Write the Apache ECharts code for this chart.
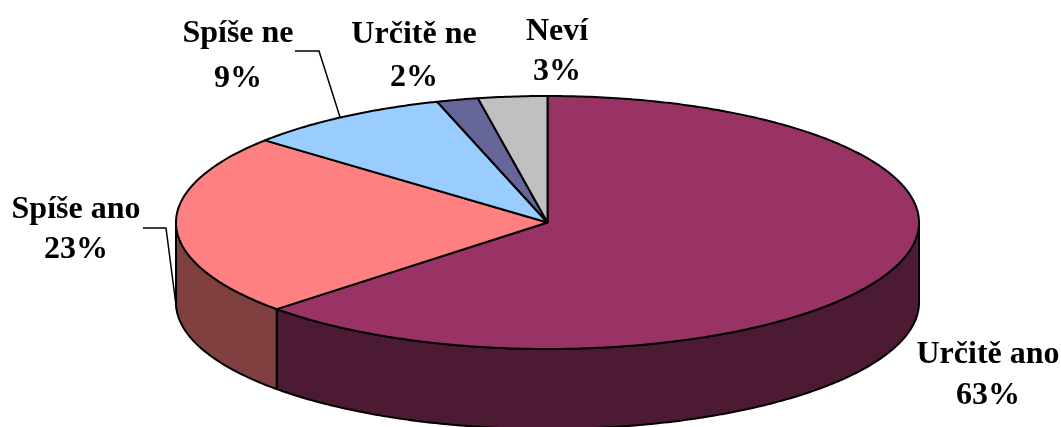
<!DOCTYPE html>
<html>
<head>
<meta charset="utf-8">
<style>html,body{margin:0;padding:0;background:#fff}#c{width:1061px;height:427px}</style>
<script src="https://cdn.jsdelivr.net/npm/echarts@6/dist/echarts.min.js"></script>
</head>
<body>
<div id="c"></div>
<script>
const categories = ['Určitě ano', 'Spíše ano', 'Spíše ne', 'Určitě ne', 'Neví'];
const values = [63, 23.25, 8.95, 1.8, 3];
const topColors = ['#993366', '#FF8080', '#99CCFF', '#666699', '#C0C0C0'];
const wallColors = ['#4D1A33', '#804040', '#4D6680', '#33334D', '#606060'];
const labelCenters = [[988, 375], [76, 230], [238, 56], [414, 56], [557, 52]];
const labelLineHeights = [41, 40, 45, 43, 40];
const leaders = [null, [[143, 228], [166, 228], [177, 313]], [[295, 51], [319, 51], [340, 117]], null, null];

const cx = 547.5, cy = 222.5, rx = 371.5, ry = 126.5, depth = 80;
const total = values.reduce((a, b) => a + b, 0);
const starts = values.map((_, i) => values.slice(0, i).reduce((a, b) => a + b, 0) / total * 360);
const rad = d => d * Math.PI / 180;
const pt = (deg, dy) => [cx + rx * Math.sin(rad(deg)), cy - ry * Math.cos(rad(deg)) + (dy || 0)];
const arc = (a, b, dy) => {
  const n = Math.max(2, Math.ceil(Math.abs(b - a) * 1.5));
  const out = [];
  for (let k = 0; k <= n; k++) out.push(pt(a + (b - a) * k / n, dy));
  return out;
};
const stroke = { stroke: '#000', lineWidth: 2, lineJoin: 'round' };

function renderWall(params, api) {
  const i = params.dataIndex;
  const a = Math.max(starts[i], 90), b = Math.min(starts[i] + api.value(0) / total * 360, 270);
  if (b <= a) return { type: 'group', children: [] };
  return {
    type: 'polygon',
    shape: { points: arc(a, b, 0).concat(arc(b, a, depth)) },
    style: Object.assign({ fill: wallColors[i] }, stroke)
  };
}
function renderTop(params, api) {
  const i = params.dataIndex;
  const a = starts[i], b = a + api.value(0) / total * 360;
  const kids = [{
    type: 'polygon',
    shape: { points: [[cx, cy]].concat(arc(a, b, 0)) },
    style: Object.assign({ fill: topColors[i] }, stroke)
  }, {
    type: 'text',
    style: {
      text: categories[i] + '\n' + Math.round(api.value(0)) + '%',
      x: labelCenters[i][0], y: labelCenters[i][1],
      align: 'center', verticalAlign: 'middle',
      font: 'bold 32px "Liberation Serif"', lineHeight: labelLineHeights[i], fill: '#000'
    }
  }];
  if (leaders[i]) kids.push({
    type: 'polyline',
    shape: { points: leaders[i] },
    style: { stroke: '#000', lineWidth: 1.5, fill: 'none' }
  });
  return { type: 'group', children: kids };
}

const chart = echarts.init(document.getElementById('c'), null, { renderer: 'canvas' });
chart.setOption({
  animation: false,
  backgroundColor: '#fff',
  series: [
    { type: 'custom', coordinateSystem: 'none', z: 1, silent: true, data: values.map(v => [v]), renderItem: renderWall },
    { type: 'custom', coordinateSystem: 'none', z: 2, silent: true, data: values.map(v => [v]), renderItem: renderTop }
  ]
});
</script>
</body>
</html>
